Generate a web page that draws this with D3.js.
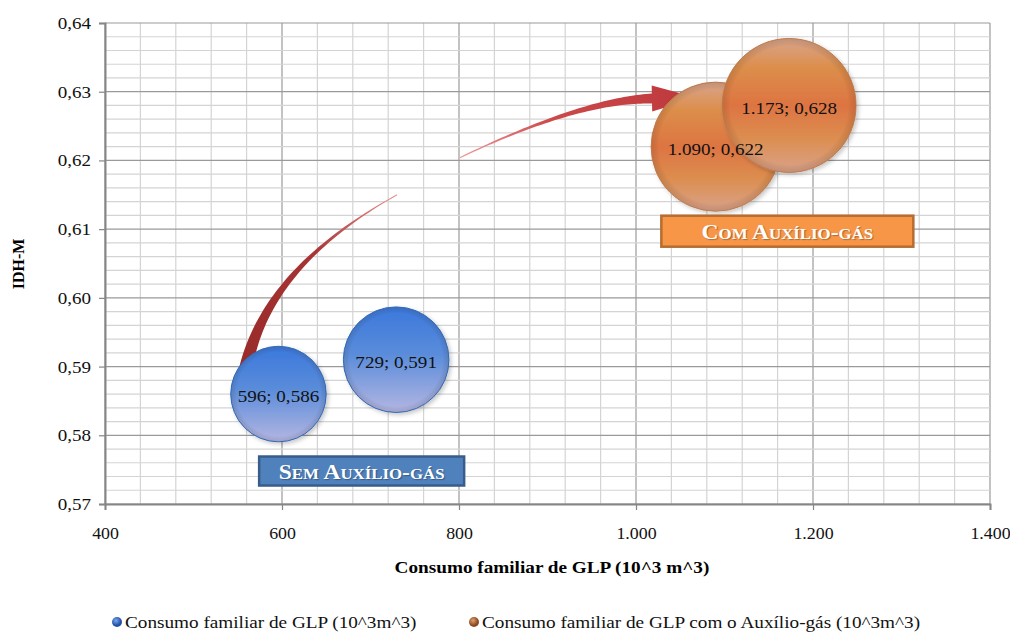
<!DOCTYPE html>
<html>
<head>
<meta charset="utf-8">
<script src="https://cdn.jsdelivr.net/npm/d3@7"></script>
<style>
  body { margin: 0; background: #fff; }
</style>
</head>
<body>
<div id="main"></div>
<script>
// series values (bubble size = x value)
const seriesNames = ['Consumo familiar de GLP (10^3m^3)', 'Consumo familiar de GLP com o Auxílio-gás (10^3m^3)'];
const semX = [596, 729];
const semY = [0.586, 0.591];
const comX = [1090, 1173];
const comY = [0.622, 0.628];
const xTicks = [400, 600, 800, 1000, 1200, 1400];
const yTicks = [0.57, 0.58, 0.59, 0.60, 0.61, 0.62, 0.63, 0.64];
const xTitle = 'Consumo familiar de GLP (10^3 m^3)';
const yTitle = 'IDH-M';
const boxLabels = ['Sem Auxílio-gás', 'Com Auxílio-gás'];

const width = 1010, height = 632;
const FONT = '"Liberation Serif", "Times New Roman", serif';
const pt = d3.formatLocale({decimal: ',', thousands: '.', grouping: [3], currency: ['R$', '']});
const fmtX = pt.format(',.0f'), fmtY = pt.format('.2f'), fmtV = pt.format('.3f');

const x = d3.scaleLinear().domain([400, 1400]).range([105, 990]);
const y = d3.scaleLinear().domain([0.57, 0.64]).range([504, 23]);
const r = d3.scaleSqrt().domain([0, 1173]).range([0, 67]);

// the reference text is a bit wider than normal Times, stretch it sideways
function stretch(sel, k) {
    sel.each(function() {
        const len = this.getComputedTextLength();
        d3.select(this).attr('textLength', len * k).attr('lengthAdjust', 'spacingAndGlyphs');
    });
}

let svg = d3.select('#main').append('svg')
    .attr('width', width)
    .attr('height', height)
    .style('font-family', FONT);

const defs = svg.append('defs');

// blue bubble gradient
let gb = defs.append('linearGradient').attr('id', 'gBlue').attr('x1', 0).attr('y1', 0).attr('x2', 0).attr('y2', 1);
gb.append('stop').attr('offset', '0%').attr('stop-color', '#3b78dc');
gb.append('stop').attr('offset', '45%').attr('stop-color', '#5a8cda');
gb.append('stop').attr('offset', '100%').attr('stop-color', '#b4b6e2');

// orange bubble gradient (banded)
let go = defs.append('linearGradient').attr('id', 'gOrange').attr('x1', 0).attr('y1', 0).attr('x2', 0).attr('y2', 1);
[['0%', '#d9a48c'], ['22%', '#dc8e4a'], ['50%', '#dd7442'], ['75%', '#dc8e50'], ['100%', '#d9a28a']]
    .forEach(s => go.append('stop').attr('offset', s[0]).attr('stop-color', s[1]));

// rim shading
let rim = defs.append('radialGradient').attr('id', 'gRim');
rim.append('stop').attr('offset', '88%').attr('stop-color', '#000').attr('stop-opacity', 0);
rim.append('stop').attr('offset', '100%').attr('stop-color', '#4a2a10').attr('stop-opacity', 0.15);

let shadow = defs.append('filter').attr('id', 'shadow').attr('x', '-20%').attr('y', '-20%').attr('width', '140%').attr('height', '140%');
shadow.append('feDropShadow').attr('dx', 2).attr('dy', 2).attr('stdDeviation', 2).attr('flood-color', '#000').attr('flood-opacity', 0.22);

// legend marker gradients
let lb = defs.append('radialGradient').attr('id', 'lBlue').attr('cx', '40%').attr('cy', '35%');
lb.append('stop').attr('offset', '0%').attr('stop-color', '#7aa8ec');
lb.append('stop').attr('offset', '100%').attr('stop-color', '#2050a8');
let lo = defs.append('radialGradient').attr('id', 'lOrange').attr('cx', '40%').attr('cy', '35%');
lo.append('stop').attr('offset', '0%').attr('stop-color', '#e0a070');
lo.append('stop').attr('offset', '100%').attr('stop-color', '#8a4a20');

// gridlines
const xMinor = d3.range(400, 1401, 40);
const yMinor = d3.range(0, 36).map(i => 0.57 + i * 0.002);

svg.append('g').selectAll('line').data(xMinor).enter().append('line')
    .attr('x1', d => x(d)).attr('x2', d => x(d))
    .attr('y1', y(0.64)).attr('y2', y(0.57))
    .attr('stroke', d => d % 200 === 0 ? '#9a9a9a' : '#d4d4d4').attr('stroke-width', 1.2);
svg.append('g').selectAll('line').data(yMinor).enter().append('line')
    .attr('x1', x(400)).attr('x2', x(1400))
    .attr('y1', d => y(d)).attr('y2', d => y(d))
    .attr('stroke', (d, i) => i % 5 === 0 ? '#9a9a9a' : '#d4d4d4').attr('stroke-width', 1.2);

// axes
let xAxis = svg.append('g').attr('transform', `translate(0,${y(0.57)})`)
    .call(d3.axisBottom(x).tickValues(xTicks).tickFormat(fmtX).tickSize(6).tickPadding(17));
let yAxis = svg.append('g').attr('transform', `translate(${x(400)},0)`)
    .call(d3.axisLeft(y).tickValues(yTicks).tickFormat(fmtY).tickSize(6).tickPadding(8));
[xAxis, yAxis].forEach(a => {
    a.attr('font-family', FONT);
    a.select('.domain').attr('stroke', '#868686').attr('stroke-width', 2);
    a.selectAll('.tick line').attr('stroke', '#868686').attr('stroke-width', 1.2);
    a.selectAll('.tick text').attr('font-size', 17).attr('fill', '#111');
});
xAxis.selectAll('.tick text').call(stretch, 1.05);
yAxis.selectAll('.tick text').call(stretch, 1.12);

// axis titles
svg.append('text').attr('x', 552).attr('y', 573).attr('text-anchor', 'middle')
    .attr('font-size', 16).attr('font-weight', 'bold').text(xTitle).call(stretch, 1.2);
svg.append('text').attr('transform', 'translate(24,264) rotate(-90)').attr('text-anchor', 'middle')
    .attr('font-size', 16).attr('font-weight', 'bold').text(yTitle);

// tapered curved arrows, defined in data units (p0 start, c control, b end of body)
const arrows = [
    { p0: [730, 0.6150], c: [570, 0.6036], b: [556, 0.5872], w0: 0.5, w1: 7.5, head: 0, hw: 0,
      colors: ['#e89090', '#a83434', '#962a28'] },
    { p0: [801, 0.6204], c: [937, 0.6288], b: [1018, 0.6290], w0: 0.6, w1: 5, head: 45, hw: 13,
      colors: ['#f09a9a', '#cc4a4c', '#be383a'] }
];
arrows.forEach((a, k) => {
    const P0 = [x(a.p0[0]), y(a.p0[1])], C = [x(a.c[0]), y(a.c[1])], B = [x(a.b[0]), y(a.b[1])];
    const bez = t => [
        (1 - t) * (1 - t) * P0[0] + 2 * (1 - t) * t * C[0] + t * t * B[0],
        (1 - t) * (1 - t) * P0[1] + 2 * (1 - t) * t * C[1] + t * t * B[1]
    ];
    const tan = t => {
        const dx = 2 * (1 - t) * (C[0] - P0[0]) + 2 * t * (B[0] - C[0]);
        const dy = 2 * (1 - t) * (C[1] - P0[1]) + 2 * t * (B[1] - C[1]);
        const l = Math.hypot(dx, dy);
        return [dx / l, dy / l];
    };
    const n = 50, left = [], right = [];
    for (let i = 0; i <= n; i++) {
        const t = i / n, p = bez(t), d = tan(t), w = a.w0 + (a.w1 - a.w0) * Math.pow(t, 1.5);
        left.push([p[0] - d[1] * w, p[1] + d[0] * w]);
        right.push([p[0] + d[1] * w, p[1] - d[0] * w]);
    }
    let pts = left.slice();
    if (a.head > 0) {
        const d = tan(1);
        pts.push([B[0] - d[1] * a.hw, B[1] + d[0] * a.hw]);
        pts.push([B[0] + d[0] * a.head, B[1] + d[1] * a.head]);
        pts.push([B[0] + d[1] * a.hw, B[1] - d[0] * a.hw]);
    }
    pts = pts.concat(right.reverse());

    const tip = a.head > 0 ? [B[0] + a.head, B[1]] : B;
    let ag = defs.append('linearGradient').attr('id', 'arrowG' + k).attr('gradientUnits', 'userSpaceOnUse')
        .attr('x1', P0[0]).attr('y1', P0[1]).attr('x2', tip[0]).attr('y2', tip[1]);
    ag.append('stop').attr('offset', '0%').attr('stop-color', a.colors[0]);
    ag.append('stop').attr('offset', '40%').attr('stop-color', a.colors[1]);
    ag.append('stop').attr('offset', '100%').attr('stop-color', a.colors[2]);

    svg.append('path').attr('d', d3.line()(pts) + 'Z').attr('fill', `url(#arrowG${k})`);
});

// bubbles
const bubbles = [];
semX.forEach((v, i) => bubbles.push({ x: v, y: semY[i], s: 0 }));
comX.forEach((v, i) => bubbles.push({ x: v, y: comY[i], s: 1 }));

let bg = svg.append('g').selectAll('g').data(bubbles).enter().append('g')
    .attr('transform', d => `translate(${x(d.x)},${y(d.y)})`);
bg.append('circle').attr('r', d => r(d.x))
    .attr('fill', d => d.s ? 'url(#gOrange)' : 'url(#gBlue)')
    .attr('stroke', d => d.s ? '#c88456' : '#2f70c8').attr('stroke-width', 1)
    .attr('filter', 'url(#shadow)');
bg.append('circle').attr('r', d => r(d.x)).attr('fill', 'url(#gRim)');

// data labels on top of all bubbles
svg.append('g').selectAll('text').data(bubbles).enter().append('text')
    .attr('x', d => x(d.x)).attr('y', d => y(d.y) + 2)
    .attr('text-anchor', 'middle').attr('dy', '0.35em')
    .attr('font-size', 17.5).attr('fill', '#111')
    .text(d => `${fmtX(d.x)}; ${fmtV(d.y)}`)
    .call(stretch, 1.09);

// series boxes
const boxes = [
    { cx: 690, cy: 0.5748, w: 205, h: 29, fill: '#4f81bd', stroke: '#385d8a' },
    { cx: 1171, cy: 0.6097, w: 252, h: 31, fill: '#f79646', stroke: '#b66d31' }
];
boxes.forEach((b, i) => {
    const cx = x(b.cx), cy = y(b.cy);
    svg.append('rect').attr('x', cx - b.w / 2).attr('y', cy - b.h / 2).attr('width', b.w).attr('height', b.h)
        .attr('fill', b.fill).attr('stroke', b.stroke).attr('stroke-width', 2.5);
    svg.append('text').attr('x', cx).attr('y', cy).attr('dy', '0.36em').attr('text-anchor', 'middle')
        .attr('font-size', 21).attr('font-weight', 'bold').attr('fill', '#fff')
        .style('font-variant', 'small-caps').style('text-shadow', '1px 1px 1px rgba(0,0,0,0.3)')
        .text(boxLabels[i])
        .call(stretch, 1.12);
});

// legend
const legendX = [117, 474];
let lg = svg.append('g').selectAll('g').data(seriesNames).enter().append('g')
    .attr('transform', (d, i) => `translate(${legendX[i]},622)`);
lg.append('circle').attr('r', 5).attr('fill', (d, i) => i ? 'url(#lOrange)' : 'url(#lBlue)');
lg.append('text').attr('x', 8).attr('dy', '0.35em').attr('font-size', 16).attr('fill', '#111')
    .text(d => d).call(stretch, 1.2);
</script>
</body>
</html>
